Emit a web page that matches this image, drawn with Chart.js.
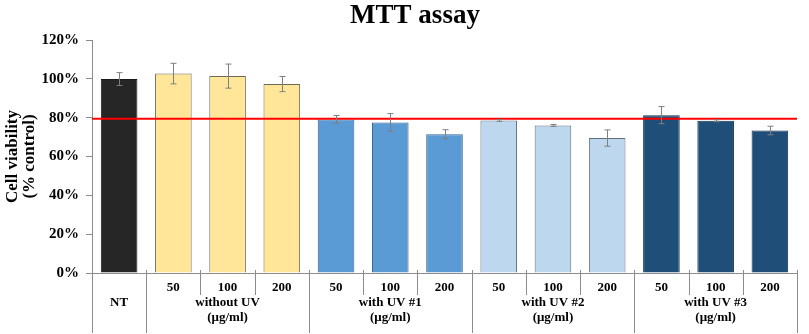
<!DOCTYPE html>
<html>
<head>
<meta charset="utf-8">
<script src="https://cdn.jsdelivr.net/npm/chart.js@4.4.1/dist/chart.umd.min.js"></script>
<style>
  html, body { margin: 0; padding: 0; background: #fff; }
  #wrap { width: 809px; height: 334px; }
</style>
</head>
<body>
<div id="wrap"><canvas id="mttChart" width="809" height="334"></canvas></div>
<script>
const categories = ["NT", "50", "100", "200", "50", "100", "200", "50", "100", "200", "50", "100", "200"];
const groupNames = ["NT", "without UV", "with UV #1", "with UV #2", "with UV #3"];
const groupUnits = ["", "(μg/ml)", "(μg/ml)", "(μg/ml)", "(μg/ml)"];
const groupSizes = [1, 3, 3, 3, 3];
const viability = [99.9, 102.7, 101.4, 97.3, 79.1, 77.5, 71.5, 78.6, 76.0, 69.5, 81.3, 78.4, 73.4];
const errors = [3.3, 5.3, 6.2, 3.9, 2.0, 4.6, 2.3, 0.5, 0.5, 4.2, 4.4, 0.5, 2.2];
const threshold = 79.5;
const yTicks = [0, 20, 40, 60, 80, 100, 120];

const SERIF = "'Liberation Serif', 'Times New Roman', serif";
const groupColors = ["#262626", "#FFE699", "#5B9BD5", "#BDD7EE", "#1F4E79"];
const groupBorders = ["#1a1a1a", "#6f6a55", "#35628f", "#5f6f80", "#142f4d"];

const barColors = [];
const barBorders = [];
groupSizes.forEach((n, g) => {
    for (let k = 0; k < n; k++) {
        barColors.push(groupColors[g]);
        barBorders.push(groupBorders[g]);
    }
});

const overlayPlugin = {
    id: "overlay",
    afterDatasetsDraw(chart) {
        const ctx = chart.ctx;
        const ys = chart.scales.y;
        const area = chart.chartArea;

        // reference line
        const ry = ys.getPixelForValue(threshold);
        ctx.save();
        ctx.strokeStyle = "#FF0000";
        ctx.lineWidth = 2;
        ctx.beginPath();
        ctx.moveTo(area.left, ry);
        ctx.lineTo(area.right, ry);
        ctx.stroke();

        // error bars
        ctx.strokeStyle = "#7f7f7f";
        ctx.lineWidth = 1;
        const meta = chart.getDatasetMeta(0);
        meta.data.forEach((bar, i) => {
            const x = Math.round(bar.x) + 0.5;
            const top = ys.getPixelForValue(viability[i] + errors[i]);
            const bottom = ys.getPixelForValue(viability[i] - errors[i]);
            ctx.beginPath();
            ctx.moveTo(x, top);
            ctx.lineTo(x, bottom);
            ctx.moveTo(x - 3, top);
            ctx.lineTo(x + 3, top);
            ctx.moveTo(x - 3, bottom);
            ctx.lineTo(x + 3, bottom);
            ctx.stroke();
        });
        ctx.restore();
    },
    afterDraw(chart) {
        const ctx = chart.ctx;
        const xs = chart.scales.x;
        const area = chart.chartArea;
        const half = (xs.getPixelForValue(1) - xs.getPixelForValue(0)) / 2;

        ctx.save();
        ctx.fillStyle = "#000";
        ctx.textAlign = "center";
        ctx.textBaseline = "middle";

        // category separators and labels
        ctx.strokeStyle = "#8c8c8c";
        ctx.lineWidth = 1;
        let start = 0;
        groupSizes.forEach((n, g) => {
            const leftX = xs.getPixelForValue(start) - half;
            const rightX = xs.getPixelForValue(start + n - 1) + half;
            const lx = Math.round(leftX) + 0.5;
            ctx.beginPath();
            ctx.moveTo(lx, area.bottom - 3);
            ctx.lineTo(lx, 333);
            ctx.stroke();

            ctx.font = "bold 13px " + SERIF;
            if (n > 1) {
                for (let k = 0; k < n; k++) {
                    const cx = xs.getPixelForValue(start + k);
                    ctx.fillText(categories[start + k], cx, 288);
                    if (k > 0) {
                        const sx = Math.round(cx - half) + 0.5;
                        ctx.beginPath();
                        ctx.moveTo(sx, area.bottom - 3);
                        ctx.lineTo(sx, 295);
                        ctx.stroke();
                    }
                }
            }
            const mid = (leftX + rightX) / 2;
            ctx.fillText(groupNames[g], mid, 303);
            if (groupUnits[g]) ctx.fillText(groupUnits[g], mid, 318);
            start += n;
        });
        const endX = Math.round(xs.getPixelForValue(categories.length - 1) + half) + 0.5;
        ctx.beginPath();
        ctx.moveTo(endX, area.bottom - 3);
        ctx.lineTo(endX, 333);
        ctx.stroke();

        // title
        ctx.font = "bold 27px " + SERIF;
        ctx.textBaseline = "alphabetic";
        ctx.fillText("MTT assay", 415, 23);

        // y axis title
        ctx.translate(0, (area.top + area.bottom) / 2);
        ctx.rotate(-Math.PI / 2);
        ctx.font = "bold 17px " + SERIF;
        ctx.textBaseline = "middle";
        ctx.fillText("Cell viability", 0, 13);
        ctx.fillText("(% control)", 0, 30);
        ctx.restore();
    },
};

new Chart(document.getElementById("mttChart"), {
    type: "bar",

    data: {
        labels: categories,

        datasets: [
            {
                label: "Cell viability",

                data: viability,

                backgroundColor: barColors,

                borderColor: barBorders,

                borderWidth: 1,

                categoryPercentage: 1,

                barPercentage: 0.675,
            },
        ],
    },

    options: {
        responsive: false,

        animation: false,

        layout: {
            padding: { top: 40, right: 12, left: 0, bottom: 0 },
        },

        plugins: {
            legend: { display: false },
            title: { display: false },
            tooltip: { enabled: false },
        },

        scales: {
            x: {
                afterFit: (scale) => { scale.height = 61; },
                grid: { display: false },
                ticks: { display: false },
                border: { display: true, color: "#8c8c8c", width: 1 },
            },

            y: {
                min: 0,
                max: 120,
                afterFit: (scale) => { scale.width = 92; },
                afterBuildTicks: (scale) => {
                    scale.ticks = yTicks.map((v) => ({ value: v }));
                },
                ticks: {
                    padding: 7,
                    color: "#000",
                    font: { family: SERIF, size: 15, weight: "bold" },
                    callback: (v) => v + "%",
                },
                grid: {
                    drawOnChartArea: false,
                    drawTicks: true,
                    tickLength: 6,
                    color: "#8c8c8c",
                },
                border: { display: true, color: "#8c8c8c", width: 1 },
            },
        },
    },

    plugins: [overlayPlugin],
});
</script>
</body>
</html>
